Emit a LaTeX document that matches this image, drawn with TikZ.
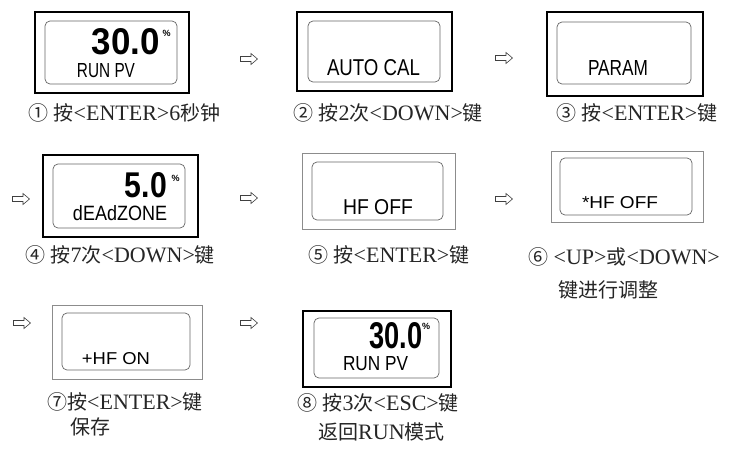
\documentclass[tikz,border=0pt]{standalone}
\usepackage{fontspec}
\setmainfont{Liberation Serif}
\newfontfamily\cjk{Noto Sans CJK SC}
\newfontfamily\lcdfont{Liberation Sans}
\newcommand\zh[1]{{\cjk\fontsize{20}{24}\selectfont #1}}
\newcommand\lcdtxt[3]{\resizebox{#1pt}{#2pt}{\lcdfont #3}}
\newcommand\digtxt[3]{\resizebox{#1pt}{#2pt}{\lcdfont\bfseries #3}}
\tikzset{
  outerthick/.style={draw=black, line width=1.8pt, minimum width=#1},
  outerthin/.style={draw=black!45, line width=0.8pt},
  innerlcd/.style={draw=black!60, line width=0.7pt, rounded corners=5pt},
  lcd/.style={inner sep=0pt, text=black},
  pct/.style={inner sep=0pt, font=\lcdfont\bfseries\fontsize{9}{10}\selectfont},
  captxt/.style={anchor=west, inner sep=0pt, text=black!85, font=\fontsize{22}{26}\selectfont},
  hollowarrow/.style={draw=black!75, fill=white, line width=0.6pt, line join=miter}
}
\newcommand\harrow[2]{%
  \coordinate (#1) at (#2);
  \draw[hollowarrow, shift={(#1)}] (-8.5,-2.5) -- (2,-2.5) -- (2,-5.5) -- (8.5,0)
     -- (2,5.5) -- (2,2.5) -- (-8.5,2.5) -- cycle;}
\begin{document}
\begin{tikzpicture}[x=1pt, y=-1pt]
\useasboundingbox[fill=white] (0,0) rectangle (731,452);
% ---------- Row 1 ----------
\node[outerthick=154pt, minimum height=81pt, draw, inner sep=0] (o1) at (112,52.5) {};
\node[innerlcd, minimum width=132pt, minimum height=63pt, inner sep=0] (i1) at (111,52.5) {};
\node[lcd] (d1) at (126,41.5) {\digtxt{68}{26}{30.0}};
\node[pct] (p1) at (166.5,33) {\%};
\node[lcd] (t1) at (106,70.5) {\lcdtxt{58}{14}{RUN PV}};
\harrow{a1}{249,59}

\node[outerthick=155pt, minimum height=79pt, draw, inner sep=0] (o2) at (374.5,51.5) {};
\node[innerlcd, minimum width=132pt, minimum height=61pt, inner sep=0] (i2) at (374,51.5) {};
\node[lcd] (t2) at (373.5,67.5) {\lcdtxt{93}{16}{AUTO CAL}};
\harrow{a2}{504,58}

\node[outerthick=156pt, minimum height=84pt, draw, inner sep=0] (o3) at (625,54) {};
\node[innerlcd, minimum width=134pt, minimum height=62pt, inner sep=0] (i3) at (624,53) {};
\node[lcd] (t3) at (618,68.5) {\lcdtxt{60}{15}{PARAM}};

\node[captxt] (c1) at (28,113) {\zh{①} \zh{按}<ENTER>6\zh{秒钟}};
\node[captxt] (c2) at (293,113) {\zh{②} \zh{按}2\zh{次}<DOWN>\zh{键}};
\node[captxt] (c3) at (556,113) {\zh{③} \zh{按}<ENTER>\zh{键}};

% ---------- Row 2 ----------
\harrow{a3}{21,199}
\node[outerthick=155pt, minimum height=82pt, draw, inner sep=0] (o4) at (120.5,196) {};
\node[innerlcd, minimum width=132pt, minimum height=64pt, inner sep=0] (i4) at (119,196) {};
\node[lcd] (d4) at (146,185) {\digtxt{42}{25}{5.0}};
\node[pct] (p4) at (175.5,178) {\%};
\node[lcd] (t4) at (120,213) {\lcdtxt{94}{15}{dEAdZONE}};
\harrow{a4}{249,198}

\node[outerthin, minimum width=153pt, minimum height=76pt, inner sep=0] (o5) at (378.5,191) {};
\node[innerlcd, minimum width=131pt, minimum height=58pt, inner sep=0] (i5) at (377.5,191) {};
\node[lcd] (t5) at (378,207.5) {\lcdtxt{70}{15}{HF OFF}};
\harrow{a5}{504,199}

\node[outerthin, minimum width=152pt, minimum height=71pt, inner sep=0] (o6) at (627,186.5) {};
\node[innerlcd, minimum width=132pt, minimum height=57pt, inner sep=0] (i6) at (626,186.5) {};
\node[lcd] (t6) at (620,203) {\lcdtxt{76}{12}{*HF OFF}};

\node[captxt] (c4) at (25,255) {\zh{④} \zh{按}7\zh{次}<DOWN>\zh{键}};
\node[captxt] (c5) at (308,255) {\zh{⑤} \zh{按}<ENTER>\zh{键}};
\node[captxt] (c6) at (528,257) {\zh{⑥} <UP>\zh{或}<DOWN>};
\node[captxt] (c6b) at (558,290) {\zh{键进行调整}};

% ---------- Row 3 ----------
\harrow{a6}{22,323}
\node[outerthin, minimum width=150pt, minimum height=74pt, inner sep=0] (o7) at (127,342) {};
\node[innerlcd, minimum width=128pt, minimum height=57pt, inner sep=0] (i7) at (126,341.5) {};
\node[lcd] (t7) at (116,359) {\lcdtxt{68}{12}{+HF ON}};
\harrow{a7}{249,323}

\node[outerthick=148pt, minimum height=76pt, draw, inner sep=0] (o8) at (377,349) {};
\node[innerlcd, minimum width=125pt, minimum height=60pt, inner sep=0] (i8) at (376.5,348) {};
\node[lcd] (d8) at (396,336) {\digtxt{53}{26}{30.0}};
\node[pct] (p8) at (426,326) {\%};
\node[lcd] (t8) at (375.5,363.5) {\lcdtxt{65}{14}{RUN PV}};

\node[captxt] (c7) at (47,402) {\zh{⑦按}<ENTER>\zh{键}};
\node[captxt] (c7b) at (70,427) {\zh{保存}};
\node[captxt] (c8) at (297,403) {\zh{⑧} \zh{按}3\zh{次}<ESC>\zh{键}};
\node[captxt] (c8b) at (318,432) {\zh{返回}RUN\zh{模式}};
\end{tikzpicture}
\end{document}
